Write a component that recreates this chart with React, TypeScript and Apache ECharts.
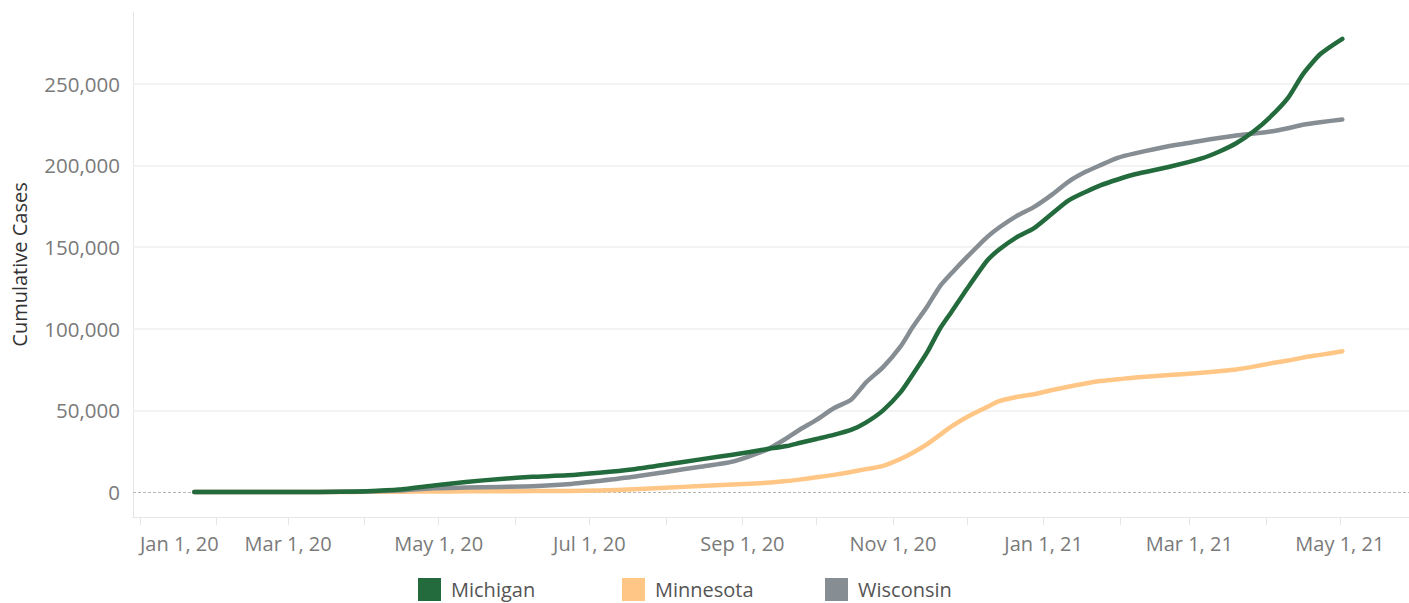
import React, { useEffect, useRef } from 'react';
import * as echarts from 'echarts';

const DATES = [
  '2020-01-23', '2020-03-05', '2020-03-22', '2020-04-02', '2020-04-15', '2020-04-29',
  '2020-05-12', '2020-05-26', '2020-06-08', '2020-06-22', '2020-07-05', '2020-07-19',
  '2020-08-01', '2020-08-15', '2020-08-28', '2020-09-11', '2020-09-19', '2020-09-24',
  '2020-10-01', '2020-10-08', '2020-10-15', '2020-10-21', '2020-10-28', '2020-11-04',
  '2020-11-09', '2020-11-15', '2020-11-20', '2020-11-25', '2020-12-01', '2020-12-09',
  '2020-12-14', '2020-12-21', '2020-12-28', '2021-01-04', '2021-01-11', '2021-01-18',
  '2021-01-24', '2021-01-31', '2021-02-07', '2021-02-21', '2021-03-06', '2021-03-13',
  '2021-03-20', '2021-03-27', '2021-04-03', '2021-04-10', '2021-04-16', '2021-04-23',
  '2021-05-02',
];

const MICHIGAN = [
  0, 0, 200, 500, 1500, 4000,
  6200, 8000, 9300, 10200, 11800, 14000,
  16800, 20000, 22800, 26300, 28200, 30000,
  32500, 35000, 38000, 42500, 50000, 61000,
  72000, 86000, 100000, 111000, 124500, 141500,
  148500, 156000, 161500, 170000, 178500, 183800,
  187800, 191400, 194600, 199200, 204300, 208400,
  213600, 220800, 230000, 241400, 255800, 268100,
  277500,
];

const MINNESOTA = [
  0, 0, 50, 100, 200, 300,
  400, 500, 550, 650, 900, 1700,
  2600, 3700, 4600, 5700, 6700, 7600,
  9000, 10500, 12300, 14000, 16000, 20200,
  24000, 29500, 35000, 40500, 46000, 52000,
  55600, 58200, 59900, 62300, 64500, 66500,
  68000, 69000, 70200, 71600, 73000, 74000,
  75100, 76800, 78800, 80500, 82300, 84000,
  86200,
];

const WISCONSIN = [
  0, 0, 100, 300, 1000, 2300,
  2700, 3100, 3500, 4700, 6800, 9300,
  12300, 15500, 18600, 26000, 33000, 38000,
  44200, 51300, 56500, 67000, 76500, 89000,
  101000, 114000, 126000, 134500, 144000, 156000,
  162000, 169000, 174500, 181700, 190000, 196100,
  200200, 204700, 207400, 211900, 215200, 216800,
  218300, 219500, 220800, 222800, 224900, 226500,
  228200,
];

const Y_TICKS = [0, 50000, 100000, 150000, 200000, 250000];
const X_TICK_DATES = [
  '2020-01-01', '2020-02-01', '2020-03-01', '2020-04-01', '2020-05-01', '2020-06-01',
  '2020-07-01', '2020-08-01', '2020-09-01', '2020-10-01', '2020-11-01', '2020-12-01',
  '2021-01-01', '2021-02-01', '2021-03-01', '2021-04-01', '2021-05-01',
];
const X_LABEL_DATES = [
  '2020-01-01', '2020-03-01', '2020-05-01', '2020-07-01', '2020-09-01', '2020-11-01',
  '2021-01-01', '2021-03-01', '2021-05-01',
];
const MONTH_NAMES = ['Jan', 'Feb', 'Mar', 'Apr', 'May', 'Jun', 'Jul', 'Aug', 'Sep', 'Oct', 'Nov', 'Dec'];
const STATES = ['Michigan', 'Minnesota', 'Wisconsin'];

const ts = (s: string) => {
  const [y, m, d] = s.split('-').map(Number);
  return Date.UTC(y, m - 1, d);
};

const FONT = '"Open Sans", sans-serif';
const COLORS: Record<string, string> = { Michigan: '#236B3C', Minnesota: '#FFC685', Wisconsin: '#878E93' };
const LEGEND_LEFT = [418, 622, 825];

export default function App() {
  const ref = useRef<HTMLDivElement>(null);
  useEffect(() => {
    if (!ref.current) return;
    const chart = echarts.init(ref.current, undefined, { renderer: 'svg' });
    const mk = (vals: number[]) => DATES.map((d, i) => [ts(d), vals[i]]);
    const lineBase = (name: string, vals: number[], z: number) => ({
      name,
      type: 'line',
      data: mk(vals),
      showSymbol: false,
      smooth: 0.2,
      z,
      color: COLORS[name],
      lineStyle: { width: 4.5, color: COLORS[name], cap: 'round', join: 'round' },
      emphasis: { disabled: true },
    });
    const option: any = {
      animation: false,
      textStyle: { fontFamily: FONT },
      grid: { left: 133, right: 0, top: 12, bottom: 86, containLabel: false },
      legend: STATES.map((s, i) => ({
        data: [s],
        left: LEGEND_LEFT[i],
        top: 578,
        padding: 0,
        itemGap: 0,
        itemWidth: 23,
        itemHeight: 23,
        icon: 'rect',
        itemStyle: { borderWidth: 0 },
        selectedMode: false,
        textStyle: { fontSize: 20, color: '#555', fontFamily: FONT, padding: [0, 0, 0, 5] },
      })),
      xAxis: {
        type: 'value',
        min: Date.UTC(2019, 11, 29, 4),
        max: Date.UTC(2021, 4, 29),
        splitLine: { show: false },
        axisLine: { show: true, onZero: false, lineStyle: { color: '#e6e6e6', width: 1 } },
        axisTick: {
          show: true,
          customValues: X_TICK_DATES.map(ts),
          length: 8,
          lineStyle: { color: '#e6e6e6', width: 1 },
        },
        axisLabel: {
          customValues: X_LABEL_DATES.map(ts),
          alignMinLabel: 'left',
          formatter: (v: number) => {
            const d = new Date(v);
            return `${MONTH_NAMES[d.getUTCMonth()]} ${d.getUTCDate()}, ${String(d.getUTCFullYear()).slice(2)}`;
          },
          fontSize: 20,
          color: '#7a7a7a',
          fontFamily: FONT,
          margin: 16,
          hideOverlap: false,
        },
      },
      yAxis: {
        type: 'value',
        min: -15300,
        max: 294000,
        name: 'Cumulative Cases',
        nameLocation: 'middle',
        nameGap: 104,
        nameTextStyle: { fontSize: 20, color: '#333', fontFamily: FONT },
        splitLine: { show: false },
        axisLine: { show: true, onZero: false, lineStyle: { color: '#e6e6e6', width: 1 } },
        axisTick: { show: false },
        axisLabel: {
          customValues: Y_TICKS,
          formatter: (v: number) => v.toLocaleString('en-US'),
          fontSize: 20.5,
          color: '#7a7a7a',
          fontFamily: FONT,
          margin: 13,
        },
      },
      series: [
        {
          ...lineBase('Minnesota', MINNESOTA, 3),
          markLine: {
            silent: true,
            symbol: 'none',
            label: { show: false },
            emphasis: { disabled: true },
            z: 1,
            data: [
              ...Y_TICKS.filter((v) => v > 0).map((v) => ({
                yAxis: v,
                lineStyle: { color: '#efefef', type: 'solid', width: 1.5 },
              })),
              { yAxis: 0, lineStyle: { color: '#b5b5b5', type: [3, 2], width: 1 } },
            ],
          },
        },
        lineBase('Wisconsin', WISCONSIN, 4),
        lineBase('Michigan', MICHIGAN, 5),
      ],
    };
    chart.setOption(option);
    return () => chart.dispose();
  }, []);
  return (
    <div
      ref={ref}
      style={{ position: 'fixed', left: 0, top: 0, width: 1409, height: 603, background: '#fff' }}
    />
  );
}
